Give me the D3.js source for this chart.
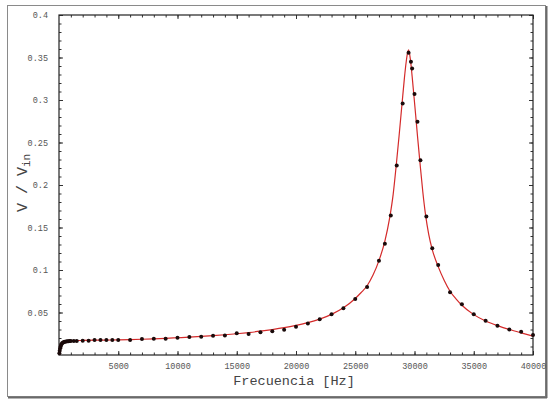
<!DOCTYPE html>
<html>
<head>
<meta charset="utf-8">
<script src="https://cdn.jsdelivr.net/npm/d3@7"></script>
<style>
  html, body { margin: 0; padding: 0; background: #fff; }
  svg { display: block; }
</style>
</head>
<body>
<svg id="chart" width="551" height="401"></svg>
<script>
// ---- data ----
const measFreq = [30, 60, 100, 140, 180, 220, 280, 350, 420, 500, 600, 700, 800, 900, 1000, 1250,
  1500, 2000, 2500, 3000, 3500, 4000, 4500, 5000, 6000, 7000, 8000, 9000, 10000, 11000, 12000,
  13000, 14000, 15000, 16000, 17000, 18000, 19000, 20000, 21000, 22000, 23000, 24000, 25000,
  26000, 27000, 27500, 28000, 28500, 29000, 29500, 29700, 29800, 30000, 30250, 30500, 31000,
  31500, 32000, 33000, 34000, 35000, 36000, 37000, 38000, 39000, 40000];
const measV = [0.002, 0.005, 0.008, 0.010, 0.012, 0.013, 0.014, 0.0148, 0.0153, 0.0157, 0.0160,
  0.0162, 0.0163, 0.0164, 0.0165, 0.0165, 0.0165, 0.0168, 0.0168, 0.0176, 0.0176, 0.0176, 0.0176,
  0.0176, 0.0176, 0.0188, 0.0192, 0.0192, 0.0204, 0.0212, 0.0216, 0.0227, 0.0230, 0.0255, 0.0247,
  0.0267, 0.0278, 0.0298, 0.0333, 0.0370, 0.0420, 0.0480, 0.0550, 0.0660, 0.0800, 0.1110, 0.1310,
  0.1640, 0.2230, 0.2960, 0.3557, 0.3450, 0.3370, 0.3070, 0.2745, 0.2290, 0.1630, 0.1255, 0.1060,
  0.0738, 0.0596, 0.0480, 0.0404, 0.0345, 0.0300, 0.0275, 0.0235];

const fitFreq = [0, 40, 80, 120, 160, 200, 260, 340, 450, 600, 800, 1200, 2000, 3000, 4000, 5000,
  6000, 7000, 8000, 9000, 10000, 11000, 12000, 13000, 14000, 15000, 16000, 17000, 18000, 19000,
  20000, 21000, 22000, 23000, 24000, 25000, 25500, 26000, 26500, 27000, 27500, 27900, 28200,
  28450, 28700, 28950, 29150, 29300, 29420, 29500, 29650, 29800, 29950, 30100, 30250, 30450,
  30700, 30950, 31200, 31500, 32000, 32500, 33000, 33500, 34000, 35000, 36000, 37000, 38000,
  39000, 40000];
const fitV = [0, 0.003, 0.0065, 0.0095, 0.0115, 0.0128, 0.0140, 0.0150, 0.0157, 0.0162, 0.0165,
  0.0168, 0.0171, 0.0174, 0.0176, 0.0178, 0.0181, 0.0185, 0.0190, 0.0196, 0.0203, 0.0210, 0.0218,
  0.0227, 0.0238, 0.0250, 0.0264, 0.0280, 0.0299, 0.0321, 0.0348, 0.0380, 0.0422, 0.0478, 0.0555,
  0.0665, 0.0735, 0.0815, 0.0940, 0.1110, 0.1340, 0.1610, 0.1890, 0.2220, 0.2580, 0.2960, 0.3260,
  0.3450, 0.3560, 0.3590, 0.3480, 0.3280, 0.3050, 0.2820, 0.2580, 0.2280, 0.1920, 0.1630, 0.1420,
  0.1240, 0.1040, 0.0880, 0.0750, 0.0660, 0.0585, 0.0475, 0.0400, 0.0345, 0.0300, 0.0260, 0.0222];

const xTicks = [5000, 10000, 15000, 20000, 25000, 30000, 35000, 40000];
const xTickLabels = ["5000", "10000", "15000", "20000", "25000", "30000", "35000", "40000"];
const yTicks = [0.05, 0.1, 0.15, 0.2, 0.25, 0.3, 0.35, 0.4];
const yTickLabels = ["0.05", "0.1", "0.15", "0.2", "0.25", "0.3", "0.35", "0.4"];
const xMinorTicks = d3.range(1000, 40000, 1000);
const yMinorTicks = d3.range(1, 40).map(i => i / 100);

// ---- layout ----
const svg = d3.select("#chart");
const L = 59, R = 533, T = 15, B = 355;
const x = d3.scaleLinear().domain([0, 40000]).range([L, R]);
const y = d3.scaleLinear().domain([0, 0.4]).range([B, T]);
const mono = "'Liberation Mono', 'DejaVu Sans Mono', monospace";

// outer frame
svg.append("rect").attr("x", 7.5).attr("y", 5.5).attr("width", 538).attr("height", 391)
  .attr("fill", "#fff").attr("stroke", "#8a8a8a").attr("stroke-width", 1);
svg.append("line").attr("x1", 8).attr("x2", 547).attr("y1", 397.5).attr("y2", 397.5)
  .attr("stroke", "#6a6a6a").attr("stroke-width", 2);
svg.append("line").attr("x1", 546.5).attr("x2", 546.5).attr("y1", 6).attr("y2", 398)
  .attr("stroke", "#6a6a6a").attr("stroke-width", 2);

// axes with ticks (frame style, ticks inward)
function fmt(arr, labels) { return d => labels[arr.indexOf(d)]; }
const gAxes = svg.append("g");

// bottom
gAxes.append("g").attr("transform", `translate(0,${B})`)
  .call(d3.axisBottom(x).tickValues(xTicks).tickFormat(fmt(xTicks, xTickLabels))
    .tickSizeInner(-4).tickSizeOuter(0).tickPadding(8));
gAxes.append("g").attr("transform", `translate(0,${B})`)
  .call(d3.axisBottom(x).tickValues(xMinorTicks).tickFormat("").tickSizeInner(-2.5).tickSizeOuter(0));
// top
gAxes.append("g").attr("transform", `translate(0,${T})`)
  .call(d3.axisTop(x).tickValues(xTicks).tickFormat("").tickSizeInner(-4).tickSizeOuter(0));
gAxes.append("g").attr("transform", `translate(0,${T})`)
  .call(d3.axisTop(x).tickValues(xMinorTicks).tickFormat("").tickSizeInner(-2.5).tickSizeOuter(0));
// left
gAxes.append("g").attr("transform", `translate(${L},0)`)
  .call(d3.axisLeft(y).tickValues(yTicks).tickFormat(fmt(yTicks, yTickLabels))
    .tickSizeInner(-4).tickSizeOuter(0).tickPadding(11));
gAxes.append("g").attr("transform", `translate(${L},0)`)
  .call(d3.axisLeft(y).tickValues(yMinorTicks).tickFormat("").tickSizeInner(-2.5).tickSizeOuter(0));
// right
gAxes.append("g").attr("transform", `translate(${R},0)`)
  .call(d3.axisRight(y).tickValues(yTicks).tickFormat("").tickSizeInner(-4).tickSizeOuter(0));
gAxes.append("g").attr("transform", `translate(${R},0)`)
  .call(d3.axisRight(y).tickValues(yMinorTicks).tickFormat("").tickSizeInner(-2.5).tickSizeOuter(0));

gAxes.selectAll(".domain").remove();
gAxes.selectAll(".tick line").attr("stroke", "#333").attr("stroke-width", 1);
gAxes.selectAll(".tick text").attr("font-family", mono).attr("font-size", 8.5)
  .attr("fill", "#555");

// frame lines
svg.append("rect").attr("x", L).attr("y", T).attr("width", R - L).attr("height", B - T)
  .attr("fill", "none").attr("stroke", "#222").attr("stroke-width", 1.2);

// fitted curve
const line = d3.line().x((d, i) => x(fitFreq[i])).y((d, i) => y(fitV[i])).curve(d3.curveMonotoneX);
svg.append("path").datum(fitV).attr("d", line).attr("fill", "none")
  .attr("stroke", "#d42a2a").attr("stroke-width", 1.2);

// data points
svg.append("g").selectAll("circle").data(measV).join("circle")
  .attr("cx", (d, i) => x(measFreq[i])).attr("cy", d => y(d)).attr("r", 2)
  .attr("fill", "#1a0a0a");

// axis titles
svg.append("text").attr("x", 294).attr("y", 385).attr("text-anchor", "middle")
  .attr("font-family", mono).attr("font-size", 13.5).attr("fill", "#444")
  .text("Frecuencia [Hz]");

const yt = svg.append("text").attr("transform", "translate(26.5,183) rotate(-90)")
  .attr("text-anchor", "middle").attr("font-family", mono).attr("font-size", 15)
  .attr("fill", "#444");
yt.append("tspan").text("V / V");
yt.append("tspan").attr("font-size", 11).attr("dy", 3).text("in");
</script>
</body>
</html>
